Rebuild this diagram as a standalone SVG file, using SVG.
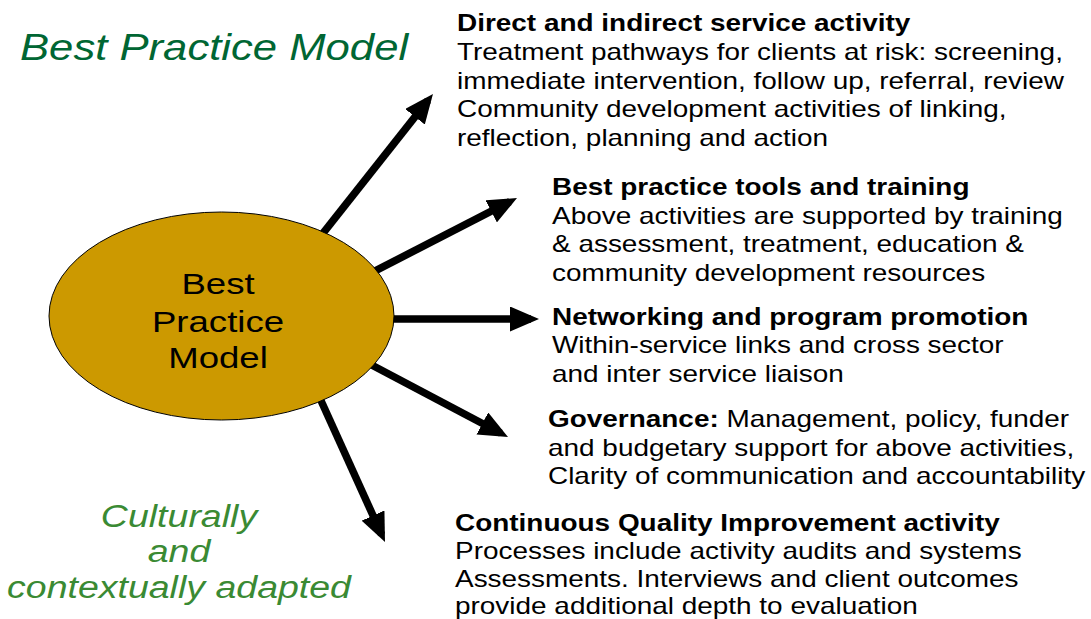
<svg xmlns="http://www.w3.org/2000/svg" width="1091" height="619" viewBox="0 0 1091 619">
  <style>
    text { font-family: "Liberation Sans", Arial, sans-serif; }
    .body { font-size: 23px; fill: #000; }
    .head { font-weight: bold; }
    .title { font-size: 37px; font-style: italic; fill: #006633; }
    .note { font-size: 31px; font-style: italic; fill: #3a8a33; text-anchor: middle; }
    .centre { font-size: 30px; fill: #000; text-anchor: middle; }
    .conn { stroke: #000; stroke-width: 7.5; fill: none; marker-end: url(#head); }
    .hub { fill: #cc9900; stroke: #000; stroke-width: 1; }
  </style>
  <defs>
    <marker id="head" markerUnits="userSpaceOnUse" markerWidth="29" markerHeight="25" viewBox="0 0 29 25" refX="21" refY="12.5" orient="auto">
      <path d="M0,0 L29,12.5 L0,25 Z" fill="#000"/>
    </marker>
  </defs>

  <!-- heading -->
  <g id="title" transform="matrix(1.18,0,0,1,20,0)">
    <text class="title" x="0" y="60">Best Practice Model</text>
  </g>

  <!-- spokes from the hub to each activity -->
  <g id="connectors">
    <line class="conn" x1="313.8" y1="244.8" x2="428" y2="100.3"/>
    <line class="conn" x1="364" y1="276.6" x2="509.9" y2="201.7"/>
    <line class="conn" x1="375" y1="319" x2="531" y2="319"/>
    <line class="conn" x1="366" y1="362" x2="500.9" y2="433.3"/>
    <line class="conn" x1="318" y1="394" x2="381.7" y2="534.7"/>
  </g>

  <!-- central hub -->
  <g id="hub">
    <ellipse class="hub" cx="221.5" cy="316" rx="172.5" ry="104"/>
    <g transform="matrix(1.22,0,0,1,218,0)">
      <text class="centre" x="0" y="294">Best</text>
      <text class="centre" x="0" y="332">Practice</text>
      <text class="centre" x="0" y="368">Model</text>
    </g>
  </g>

  <!-- activity 1 -->
  <g id="service" transform="matrix(1.215,0,0,1,457,0)">
    <text class="body">
      <tspan class="head" x="0" y="31">Direct and indirect service activity</tspan>
      <tspan x="0" y="60">Treatment pathways for clients at risk: screening,</tspan>
      <tspan x="0" y="89">immediate intervention, follow up, referral, review</tspan>
      <tspan x="0" y="117">Community development activities of linking,</tspan>
      <tspan x="0" y="146">reflection, planning and action</tspan>
    </text>
  </g>

  <!-- activity 2 -->
  <g id="tools" transform="matrix(1.215,0,0,1,552,0)">
    <text class="body">
      <tspan class="head" x="0" y="195">Best practice tools and training</tspan>
      <tspan x="0" y="224">Above activities are supported by training</tspan>
      <tspan x="0" y="252">&amp; assessment, treatment, education &amp;</tspan>
      <tspan x="0" y="281">community development resources</tspan>
    </text>
  </g>

  <!-- activity 3 -->
  <g id="networking" transform="matrix(1.215,0,0,1,552,0)">
    <text class="body">
      <tspan class="head" x="0" y="325">Networking and program promotion</tspan>
      <tspan x="0" y="353">Within-service links and cross sector</tspan>
      <tspan x="0" y="382">and inter service liaison</tspan>
    </text>
  </g>

  <!-- activity 4 -->
  <g id="governance" transform="matrix(1.215,0,0,1,548,0)">
    <text class="body">
      <tspan x="0" y="427"><tspan class="head">Governance:</tspan> Management, policy, funder</tspan>
      <tspan x="0" y="456">and budgetary support for above activities,</tspan>
      <tspan x="0" y="484">Clarity of communication and accountability</tspan>
    </text>
  </g>

  <!-- activity 5 -->
  <g id="quality" transform="matrix(1.215,0,0,1,455,0)">
    <text class="body">
      <tspan class="head" x="0" y="531">Continuous Quality Improvement activity</tspan>
      <tspan x="0" y="559">Processes include activity audits and systems</tspan>
      <tspan x="0" y="587">Assessments. Interviews and client outcomes</tspan>
      <tspan x="0" y="614">provide additional depth to evaluation</tspan>
    </text>
  </g>

  <!-- adaptation note -->
  <g id="adapted" transform="matrix(1.21,0,0,1,179,0)">
    <text class="note" x="0" y="527">Culturally</text>
    <text class="note" x="0" y="562">and</text>
    <text class="note" x="0" y="598">contextually adapted</text>
  </g>
</svg>
